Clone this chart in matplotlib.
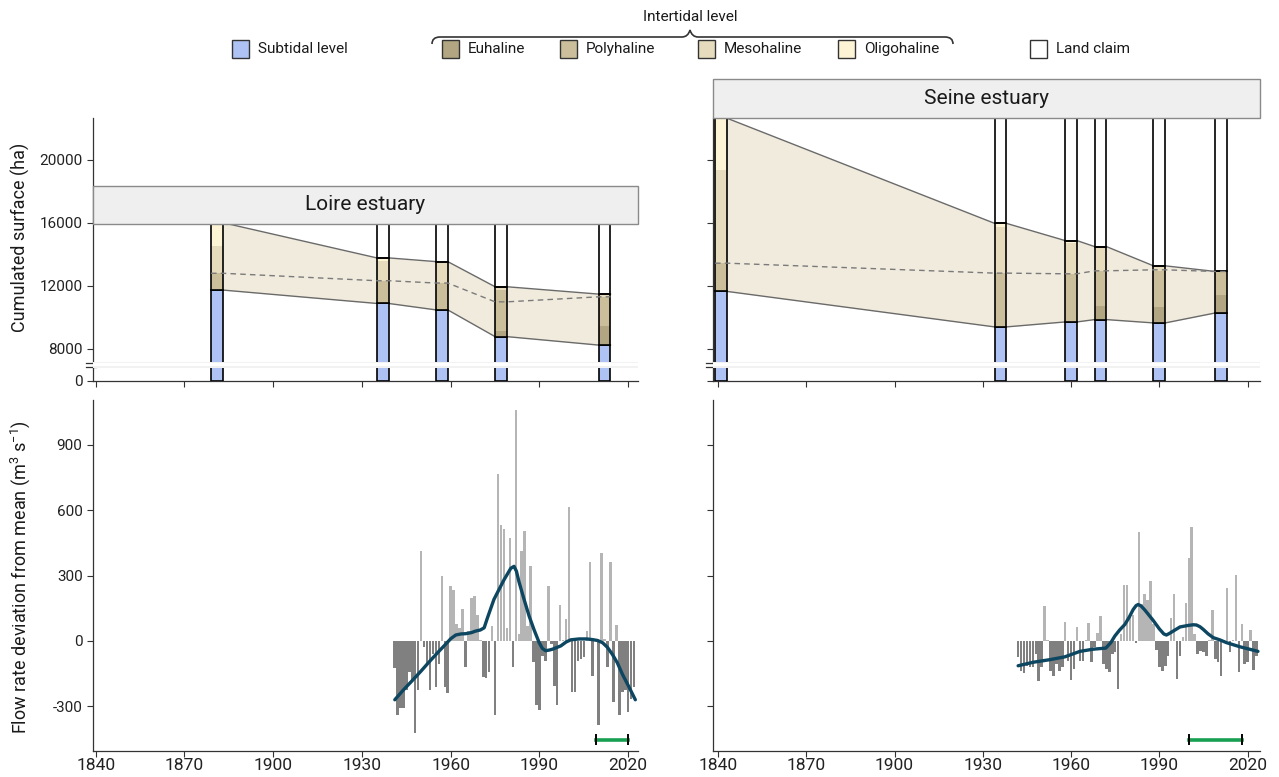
import numpy as np
import matplotlib
matplotlib.use("Agg")
import matplotlib.pyplot as plt
from matplotlib.patches import Rectangle, PathPatch
from matplotlib.path import Path
import matplotlib.transforms as mtransforms

plt.rcParams['font.family'] = ['Roboto', 'DejaVu Sans']
plt.rcParams['mathtext.default'] = 'regular'

# ---------------- habitat surfaces (ha) ----------------
loire_years = [1881, 1937, 1957, 1977, 2012]
loire_subtidal = [11726, 10877, 10469, 8772, 8236]
loire_euhaline = [0, 0, 0, 357, 1212]
loire_polyhaline = [1065, 1442, 1703, 2597, 1812]
loire_mesohaline = [1723, 1276, 1257, 210, 210]
loire_oligohaline = [1486, 172, 102, 0, 0]
loire_land = [0, 2233, 2469, 4064, 4530]
loire_dashed = [12791, 12319, 12172, 10979, 11298]

seine_years = [1841, 1936, 1960, 1970, 1990, 2011]
seine_subtidal = [11642, 9389, 9705, 9853, 9642, 10274]
seine_euhaline = [0, 0, 0, 884, 1011, 1158]
seine_polyhaline = [1790, 3411, 3053, 2210, 2294, 1473]
seine_mesohaline = [5894, 2905, 1979, 1537, 316, 0]
seine_oligohaline = [3304, 253, 126, 0, 0, 0]
seine_land = [0, 6672, 7767, 8146, 9367, 9725]
seine_dashed = [13432, 12800, 12758, 12947, 13010, 12905]

# ---------------- flow rate deviation from mean (m3/s) ----------------
loire_flow_years = list(range(1941, 2023))
loire_flow = [-124, -341, -306, -306, -227, -144, -182, -424, -227, 412,
              -30, -106, -227, -61, -212, -106, 300, -212, -240, 250,
              235, 76, 58, 148, -121, 45, 197, 205, 121, 5,
              -167, -170, -144, 68, -341, 765, 533, 515, 60, 472,
              -121, 1060, 30, 412, 506, 68, 344, -98, -295, -318,
              -68, -91, 250, -15, -205, -295, 164, 5, 100, 614,
              -235, -235, -91, -83, -73, 45, 364, -159, 10, -386,
              401, 10, -121, 364, -280, 73, -341, -235, -227, -326,
              -265, -212]
loire_smooth_years = [1941.1, 1944, 1947, 1950, 1952.6, 1955.5, 1958.3, 1960, 1961.7,
                      1963.5, 1965, 1967, 1968.4, 1970, 1971.3, 1972.4, 1974.6,
                      1976.3, 1978, 1980.3, 1981.4, 1982.2, 1983.1, 1984.8, 1986.5,
                      1988.2, 1989.9, 1991, 1992.1, 1993.3, 1994.4, 1997.2, 1999,
                      2000.6, 2003.4, 2006, 2007.9, 2009.6, 2011.3, 2013, 2014.6,
                      2016.3, 2018, 2020.2, 2022.4]
loire_smooth = [-270, -225, -182, -138, -98, -55, -15, 10, 27,
                32, 33, 38, 45, 50, 60, 105, 190,
                235, 280, 333, 342, 320, 270, 190, 114,
                50, -8, -35, -45, -42, -38, -23, -5,
                5, 9, 9, 6, 2, -8, -30, -61,
                -100, -152, -210, -270]
loire_period = [2009, 2020]

seine_flow_years = list(range(1942, 2024))
seine_flow = [-76, -136, -147, -115, -121, -118, -61, -185, -121, 159,
              3, -136, -159, -106, -136, -121, 88, -94, -179, -129,
              65, -94, -91, 6, 83, -95, -30, 35, 114, -106,
              -129, -144, -60, -50, -220, 30, 258, 258, 121, 121,
              -11, 500, 170, 215, 189, 276, 76, -40, -121, -136,
              -115, -68, 106, 215, -174, -68, 20, 174, 379, 523,
              30, -61, -45, -50, -68, 5, 144, -83, -98, -159,
              5, 242, -53, 5, 303, -144, 76, -106, -98, 48,
              -133, -68]
seine_smooth_years = [1942, 1947.1, 1952.8, 1957.9, 1963, 1967.5, 1971.8, 1973.5,
                      1974.9, 1976.5, 1978.3, 1979.8, 1981.1, 1982.1, 1982.8, 1983.8,
                      1985.1, 1987.9, 1990, 1991.5, 1992.4, 1993.5, 1994.7, 1997,
                      1999.8, 2001.5, 2002.6, 2003.8, 2004.9, 2006.5, 2008.3, 2010.5,
                      2012.8, 2017.4, 2023.5]
seine_smooth = [-114, -98, -86, -73, -48, -38, -33, -8,
                23, 50, 76, 110, 144, 162, 167, 160,
                141, 94, 55, 32, 27, 35, 45, 64,
                71, 74, 73, 65, 53, 33, 15, 5,
                -8, -27, -48]
seine_period = [2000, 2018]

decades = [1840, 1870, 1900, 1930, 1960, 1990, 2020]

# ---------------- colours ----------------
C_SUB = '#aec3f3'
C_EU = '#b1a681'
C_POLY = '#cbbf9b'
C_MESO = '#e6dbbd'
C_OLIGO = '#fdf3d5'
C_RIBBON = '#f1ebdd'
C_POS = '#b5b5b5'
C_NEG = '#808080'
C_CURVE = '#0c4660'
C_GREEN = '#17a052'
C_AX = '#333333'

Y0 = 5958  # position of "0" below the axis break

fig = plt.figure(figsize=(12.79, 7.77), dpi=100)


def style_axes(ax):
    for s in ['top', 'right']:
        ax.spines[s].set_visible(False)
    for s in ['left', 'bottom']:
        ax.spines[s].set_color(C_AX)
        ax.spines[s].set_linewidth(0.9)
    ax.tick_params(length=4, width=0.8, color=C_AX, labelcolor='#222222')
    ax.set_xticks(decades)


def draw_habitat(ax, years, sub, eu, poly, meso, oligo, land, dashed, xlim, labels):
    years = np.array(years, float)
    layers = np.array([sub, eu, poly, meso, oligo, land], float)
    cum = np.cumsum(layers, axis=0)
    sub_top, inter_top = cum[0], cum[4]
    w = 4
    xs = np.column_stack([years - w / 2, years + w / 2]).ravel()
    lo = np.repeat(sub_top, 2)
    hi = np.repeat(inter_top, 2)
    ax.fill_between(xs, lo, hi, color=C_RIBBON, lw=0, zorder=1)
    ax.plot(xs, lo, color='#6a6a6a', lw=1, zorder=1.5)
    ax.plot(xs, hi, color='#6a6a6a', lw=1, zorder=1.5)
    ax.bar(years, sub_top - Y0, bottom=Y0, width=w, color=C_SUB,
           edgecolor='black', lw=1.2, zorder=3)
    bottom = sub_top.copy()
    for vals, col in zip(layers[1:5], [C_EU, C_POLY, C_MESO, C_OLIGO]):
        ax.bar(years, vals, bottom=bottom, width=w, color=col, lw=0, zorder=3)
        bottom = bottom + vals
    ax.bar(years, inter_top - sub_top, bottom=sub_top, width=w, fill=False,
           edgecolor='black', lw=1.2, zorder=4)
    ax.bar(years, layers[5], bottom=inter_top, width=w, color='white',
           edgecolor='black', lw=1.2, zorder=3)
    ax.plot(xs, np.repeat(dashed, 2), ls=(0, (4, 3)), color='#7a7a7a', lw=1, zorder=5)

    ax.set_xlim(*xlim)
    ax.set_ylim(Y0, 22640)
    style_axes(ax)
    ax.set_xticklabels([])
    ax.set_yticks([Y0, 8000, 12000, 16000, 20000])
    if labels:
        ax.set_yticklabels(['0', '8000', '12000', '16000', '20000'], fontsize=11)
    else:
        ax.set_yticklabels([])
    # axis break
    ax.axhspan(6790, 7170, color='#f2f2f2', lw=0, zorder=6)
    ax.axhspan(6890, 7070, color='white', lw=0, zorder=6)
    ax.spines['left'].set_visible(False)
    tr = mtransforms.blended_transform_factory(ax.transAxes, ax.transData)
    ax.plot([0, 0], [Y0, 6860], color=C_AX, lw=0.9, transform=tr, clip_on=False)
    ax.plot([0, 0], [7110, 22640], color=C_AX, lw=0.9, transform=tr, clip_on=False)
    for yb in [6860, 7110]:
        ax.plot([-0.012, 0.006], [yb, yb], color=C_AX, lw=0.9, transform=tr, clip_on=False)


def draw_flow(ax, years, dev, syears, smooth, period, xlim, labels):
    dev = np.array(dev, float)
    cols = np.where(dev >= 0, C_POS, C_NEG)
    ax.bar(years, dev, width=0.85, color=cols, lw=0, zorder=2)
    ax.plot(syears, smooth, color=C_CURVE, lw=2.4, zorder=3,
            solid_capstyle='round', solid_joinstyle='round')
    gy = -453
    ax.plot(period, [gy, gy], color=C_GREEN, lw=2.6, zorder=3)
    for p in period:
        ax.plot([p, p], [gy - 20, gy + 20], color='black', lw=1.4, zorder=4)
    ax.set_xlim(*xlim)
    ax.set_ylim(-505, 1105)
    style_axes(ax)
    ax.tick_params(axis='x', pad=1)
    ax.set_xticklabels([str(d) for d in decades], fontsize=12.5)
    ax.set_yticks([-300, 0, 300, 600, 900])
    if labels:
        ax.set_yticklabels(['-300', '0', '300', '600', '900'], fontsize=11)
    else:
        ax.set_yticklabels([])


W = 1279.0
H = 777.0
xl_left = (1839.1, 2023.3)
xl_right = (1838.3, 2024.2)

ax_tl = fig.add_axes([93 / W, 1 - 381 / H, 545 / W, 263 / H])
ax_tr = fig.add_axes([713 / W, 1 - 381 / H, 547 / W, 263 / H])
ax_bl = fig.add_axes([93 / W, 1 - 751 / H, 545 / W, 351 / H])
ax_br = fig.add_axes([713 / W, 1 - 751 / H, 547 / W, 351 / H])

draw_habitat(ax_tl, loire_years, loire_subtidal, loire_euhaline, loire_polyhaline,
             loire_mesohaline, loire_oligohaline, loire_land, loire_dashed, xl_left, True)
draw_habitat(ax_tr, seine_years, seine_subtidal, seine_euhaline, seine_polyhaline,
             seine_mesohaline, seine_oligohaline, seine_land, seine_dashed, xl_right, False)
draw_flow(ax_bl, loire_flow_years, loire_flow, loire_smooth_years, loire_smooth,
          loire_period, xl_left, True)
draw_flow(ax_br, seine_flow_years, seine_flow, seine_smooth_years, seine_smooth,
          seine_period, xl_right, False)

# ---------------- overlay: strips, legend, axis titles ----------------
ov = fig.add_axes([0, 0, 1, 1], zorder=10)
ov.set_xlim(0, W)
ov.set_ylim(H, 0)
ov.axis('off')
ov.patch.set_alpha(0)

for (x0, y0, w, h, name) in [(93, 186, 545, 38, 'Loire estuary'),
                             (713, 79, 547, 39, 'Seine estuary')]:
    ov.add_patch(Rectangle((x0, y0), w, h, facecolor='#efefef', edgecolor='#8a8a8a', lw=1))
    ov.text(x0 + w / 2, y0 + h / 2, name, ha='center', va='center', fontsize=15, color='#1a1a1a')

ov.text(20, 237, 'Cumulated surface (ha)', rotation=90, ha='center', va='center',
        fontsize=13, color='#1a1a1a')
ov.text(20, 577, 'Flow rate deviation from mean (m$^3$ s$^{-1}$)', rotation=90,
        ha='center', va='center', fontsize=13, color='#1a1a1a')

legend_items = [('Subtidal level', C_SUB, 232), ('Euhaline', C_EU, 442),
                ('Polyhaline', C_POLY, 560), ('Mesohaline', C_MESO, 698),
                ('Oligohaline', C_OLIGO, 838), ('Land claim', 'white', 1030)]
for label, col, x in legend_items:
    ov.add_patch(Rectangle((x, 40), 17, 18, facecolor=col, edgecolor='#333333', lw=1))
    ov.text(x + 26, 49, label, ha='left', va='center', fontsize=11, color='#1a1a1a')

ov.text(690, 17, 'Intertidal level', ha='center', va='center', fontsize=11, color='#1a1a1a')
verts = [(432, 44), (432, 37), (440, 37), (440, 37),
         (682, 37), (688, 37), (690, 30),
         (692, 37), (698, 37),
         (945, 37), (945, 37), (953, 37), (953, 44)]
codes = [Path.MOVETO, Path.CURVE3, Path.CURVE3, Path.LINETO,
         Path.LINETO, Path.CURVE3, Path.CURVE3,
         Path.CURVE3, Path.CURVE3,
         Path.LINETO, Path.LINETO, Path.CURVE3, Path.CURVE3]
ov.add_patch(PathPatch(Path(verts, codes), facecolor='none', edgecolor='#333333', lw=1.2))

fig.savefig('out.png', dpi=100)
